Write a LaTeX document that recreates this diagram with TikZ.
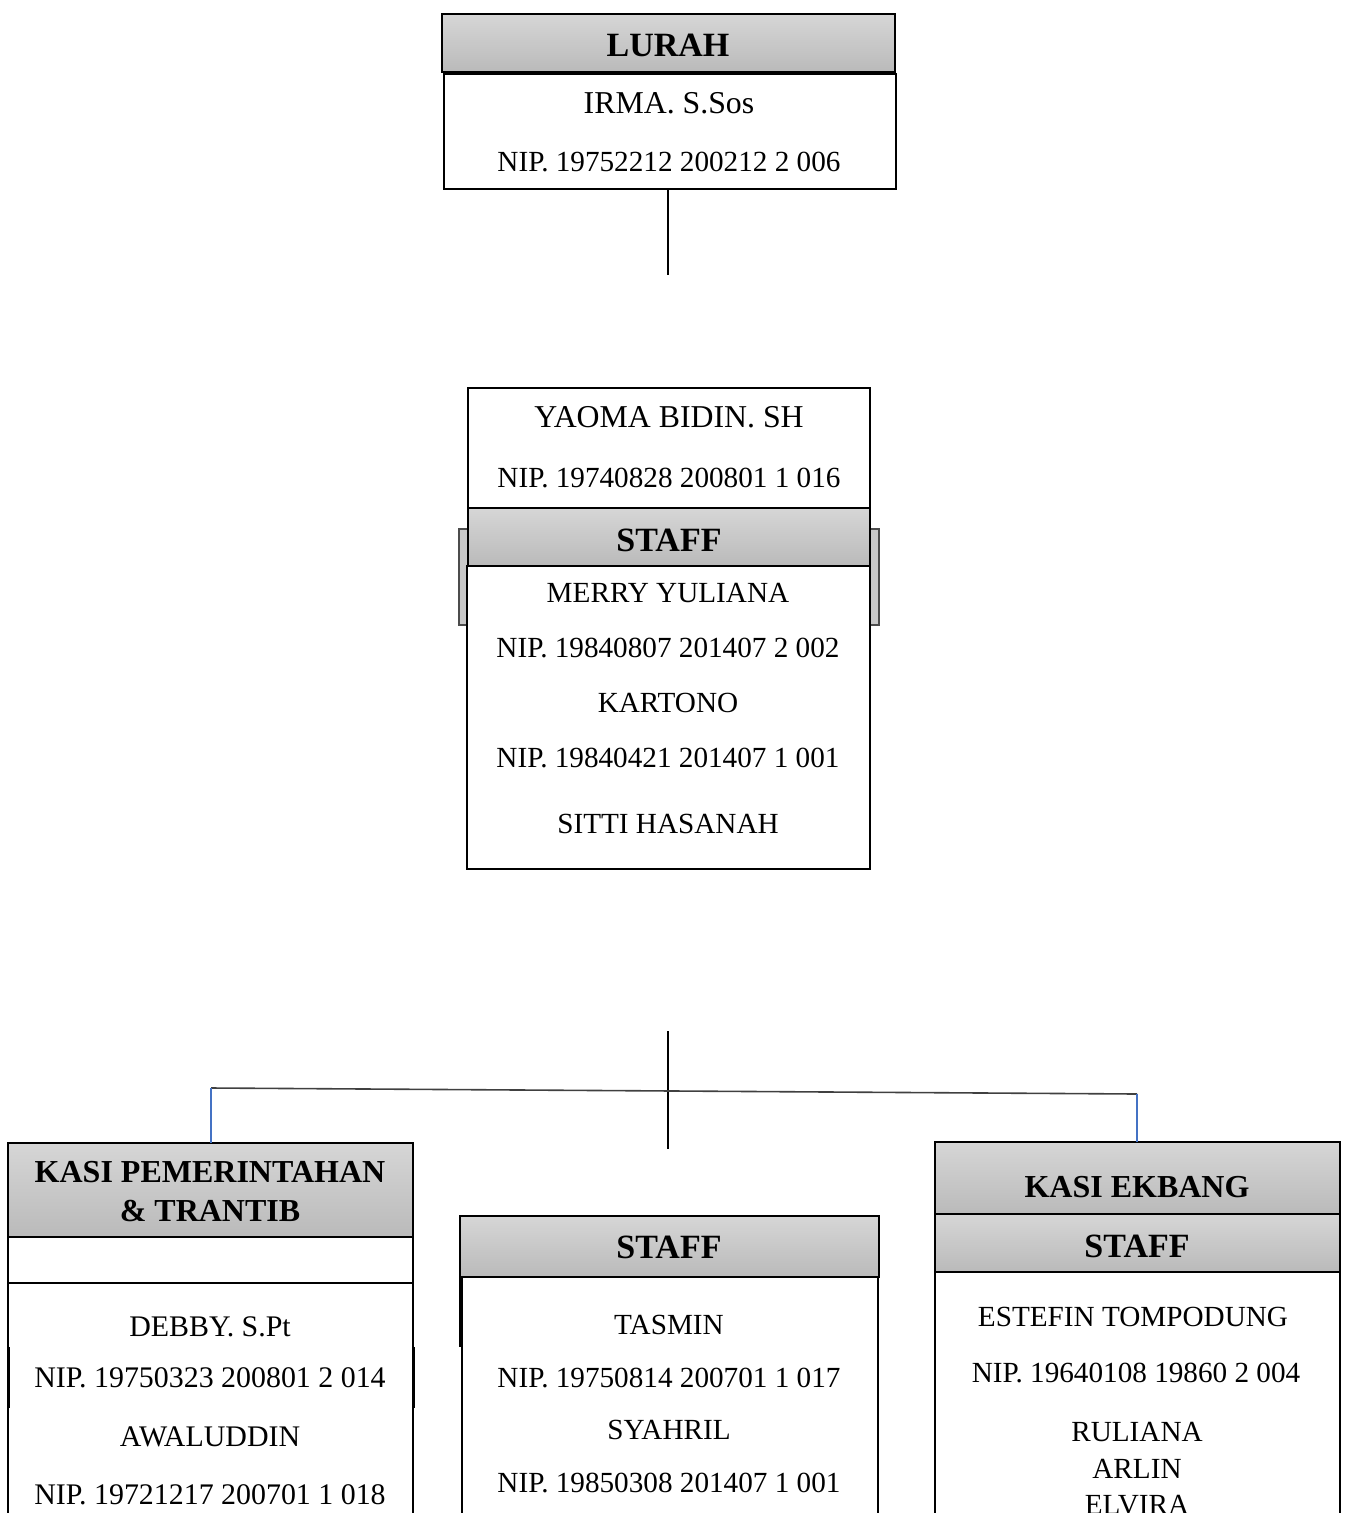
\documentclass[tikz,border=0pt]{standalone}
\usepackage{fontspec}
\setmainfont{Liberation Serif}
\usetikzlibrary{positioning}

\definecolor{headtop}{RGB}{214,214,214}
\definecolor{headbot}{RGB}{186,186,186}
\definecolor{tabgray}{RGB}{200,200,200}
\definecolor{linkblue}{RGB}{68,114,196}

\tikzset{
  box/.style={draw, line width=1.8pt, fill=white, inner sep=0pt, outer sep=0pt, anchor=north west},
  headbox/.style={box, top color=headtop, bottom color=headbot},
  tabbox/.style={box, fill=tabgray, draw=black!70, line width=1.4pt},
  person/.style={font=\fontsize{29.2}{34}\selectfont, inner sep=0pt},
  bigperson/.style={font=\fontsize{31.8}{37}\selectfont, inner sep=0pt},
  leftperson/.style={font=\fontsize{29.9}{35}\selectfont, inner sep=0pt},
  headtxt/.style={font=\fontsize{34}{40}\selectfont\bfseries, inner sep=0pt},
  kasitxt/.style={font=\fontsize{32}{39}\selectfont\bfseries, inner sep=0pt},
  link/.style={line width=1.6pt},
  hlink/.style={line width=1.6pt, draw=black!75},
  bluelink/.style={line width=1.5pt, draw=linkblue},
  stub/.style={line width=3pt},
}

\begin{document}
\begin{tikzpicture}[x=1pt, y=-1pt]
  \useasboundingbox (0,0) rectangle (1347,1513);
  \clip (0,0) rectangle (1347,1513);

  % Define boxes
  \node[headbox, minimum width=453pt, minimum height=58pt] (lurah) at (442,14) {};
  \node[box, minimum width=452pt, minimum height=115pt] (lurahbody) at (444,74) {};

  \node[tabbox, minimum width=420pt, minimum height=96pt] (stafftab) at (459,529) {};
  \node[box, minimum width=402pt, minimum height=120pt] (sekret) at (468,388) {};
  \node[headbox, minimum width=402pt, minimum height=58pt] (staffhead) at (468,508) {};
  \node[box, minimum width=403pt, minimum height=303pt] (staffbody) at (467,566) {};

  \node[headbox, minimum width=405pt, minimum height=94pt] (kasipem) at (8,1143) {};
  \node[box, minimum width=405pt, minimum height=46pt] (kasipemblank) at (8,1237) {};
  \node[box, minimum width=405pt, minimum height=260pt] (kasipembody) at (8,1283) {};

  \node[headbox, minimum width=419pt, minimum height=61pt] (staffmid) at (460,1216) {};
  \node[box, minimum width=416pt, minimum height=260pt] (staffmidbody) at (462,1277) {};

  \node[headbox, minimum width=405pt, minimum height=72pt] (kasiekbang) at (935,1142) {};
  \node[headbox, minimum width=405pt, minimum height=58pt] (staffekbang) at (935,1214) {};
  \node[box, minimum width=405pt, minimum height=260pt] (staffekbangbody) at (935,1272) {};

  % side stubs
  \draw[stub] (8,1347) -- (8,1408);
  \draw[stub] (413,1347) -- (413,1408);
  \draw[stub] (460,1277) -- (460,1347);

  % Texts
  \node[headtxt] (lurahtxt) at (668,45) {LURAH};
  \node[bigperson] (irma) at (669,103) {IRMA. S.Sos};
  \node[person] (irmanip) at (669,162) {NIP. 19752212 200212 2 006};

  \node[bigperson] (yaoma) at (669,417) {YAOMA BIDIN. SH};
  \node[person] (yaomanip) at (669,478) {NIP. 19740828 200801 1 016};
  \node[headtxt] (stafftxt) at (669,540) {STAFF};
  \node[person] (merry) at (668,593) {MERRY YULIANA};
  \node[person] (merrynip) at (668,648) {NIP. 19840807 201407 2 002};
  \node[person] (kartono) at (668,703) {KARTONO};
  \node[person] (kartononip) at (668,758) {NIP. 19840421 201407 1 001};
  \node[person] (sitti) at (668,824) {SITTI HASANAH};

  \node[kasitxt] (kasipemtxt) at (210,1172) {KASI PEMERINTAHAN};
  \node[kasitxt] (trantib) at (210,1211) {\& TRANTIB};
  \node[leftperson] (debby) at (210,1327) {DEBBY. S.Pt};
  \node[leftperson] (debbynip) at (210,1378) {NIP. 19750323 200801 2 014};
  \node[leftperson] (awaluddin) at (210,1437) {AWALUDDIN};
  \node[leftperson] (awaluddinnip) at (210,1495) {NIP. 19721217 200701 1 018};

  \node[headtxt] (staffmidtxt) at (669,1247) {STAFF};
  \node[person] (tasmin) at (669,1325) {TASMIN};
  \node[person] (tasminnip) at (669,1378) {NIP. 19750814 200701 1 017};
  \node[person] (syahril) at (669,1430) {SYAHRIL};
  \node[person] (syahrilnip) at (669,1483) {NIP. 19850308 201407 1 001};

  \node[kasitxt] (kasiekbangtxt) at (1137,1187) {KASI EKBANG};
  \node[headtxt] (staffekbangtxt) at (1137,1246) {STAFF};
  \node[person] (estefin) at (1133,1317) {ESTEFIN TOMPODUNG};
  \node[person] (estefinnip) at (1136,1373) {NIP. 19640108 19860 2 004};
  \node[person] (ruliana) at (1137,1432) {RULIANA};
  \node[person] (arlin) at (1137,1469) {ARLIN};
  \node[person] (elvira) at (1137,1505) {ELVIRA};

  % Connect the nodes
  \coordinate (lurahend) at (668,275);
  \coordinate (midtop) at (668,1031);
  \coordinate (midbot) at (668,1149);
  \coordinate (hleft) at (211,1088);
  \coordinate (hright) at (1137,1094);

  \draw[link] (lurahend |- lurahbody.south) -- (lurahend);
  \draw[link] (midtop) -- (midbot);
  \draw[hlink] (hleft) -- (hright);
  \draw[bluelink] (hleft) -- (hleft |- kasipem.north);
  \draw[bluelink] (hright) -- (hright |- kasiekbang.north);

\end{tikzpicture}
\end{document}
